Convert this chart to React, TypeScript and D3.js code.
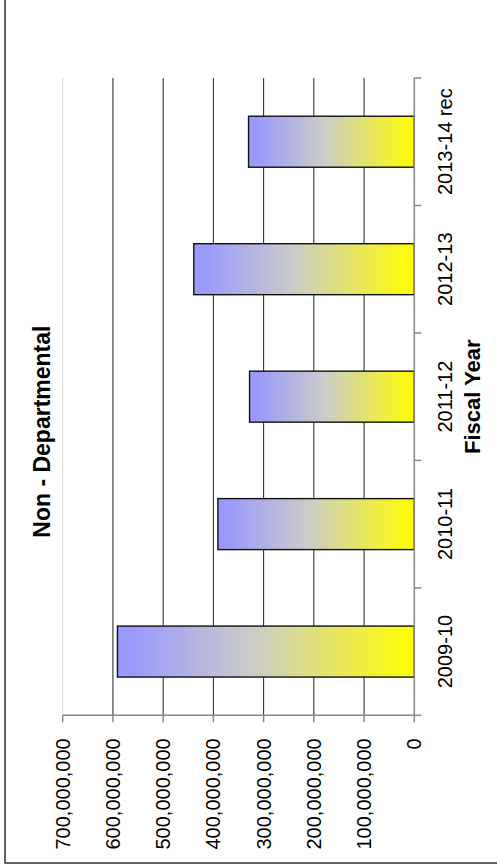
import React from "react";
import * as d3 from "d3";

// Non-departmental spending by fiscal year (chart is drawn turned on its side)
const categories: string[] = ["2009-10", "2010-11", "2011-12", "2012-13", "2013-14 rec"];
const spending: number[] = [591000000, 391000000, 328000000, 439000000, 330000000];
const valueTicks: number[] = [0, 100000000, 200000000, 300000000, 400000000, 500000000, 600000000, 700000000];
const chartTitle = "Non - Departmental";
const axisTitle = "Fiscal Year";

const W = 497;
const H = 866;
const plot = { left: 62.7, right: 414.3, top: 78, bottom: 715.3 };
const FONT = "'Liberation Sans', Arial, sans-serif";

export default function App() {
  // value runs right-to-left, categories run bottom-to-top
  const x = d3.scaleLinear().domain([0, 700000000]).range([plot.right, plot.left]);
  const y = d3
    .scaleBand<string>()
    .domain(categories)
    .range([plot.bottom, plot.top])
    .paddingInner(0.6)
    .paddingOuter(0.3);
  const step = y.step();
  const fmt = d3.format(",");
  const boundaries = d3.range(categories.length + 1).map((i) => plot.bottom - i * step);
  const midY = (plot.top + plot.bottom) / 2;

  return (
    <svg
      width={W}
      height={H}
      style={{ position: "absolute", left: 0, top: 0, background: "#fff" }}
      fontFamily={FONT}
    >
      <defs>
        <linearGradient id="barFill" x1="0" y1="0" x2="1" y2="0">
          <stop offset="0" stopColor="#9999ff" />
          <stop offset="0.06" stopColor="#9b9bfb" />
          <stop offset="0.45" stopColor="#cbcbcb" />
          <stop offset="1" stopColor="#ffff00" />
        </linearGradient>
      </defs>

      {/* chart frame */}
      <rect x={5} y={-20} width={W + 20} height={863 + 20} fill="#fff" stroke="#333" strokeWidth={1.5} />

      {/* gridlines */}
      {valueTicks
        .filter((v) => v > 0)
        .map((v) => (
          <line
            key={v}
            x1={x(v)}
            x2={x(v)}
            y1={plot.top}
            y2={plot.bottom}
            stroke={v === 700000000 ? "#d8d8d8" : "#222"}
            strokeWidth={1}
          />
        ))}

      {/* bars */}
      {categories.map((c, i) => (
        <rect
          key={c}
          x={x(spending[i])}
          y={y(c)!}
          width={x(0) - x(spending[i])}
          height={y.bandwidth()}
          fill="url(#barFill)"
          stroke="#111"
          strokeWidth={1.4}
        />
      ))}

      {/* value axis */}
      <line x1={plot.left} x2={plot.right} y1={plot.bottom} y2={plot.bottom} stroke="#888" strokeWidth={1.5} />
      {valueTicks.map((v) => (
        <g key={v}>
          <line x1={x(v)} x2={x(v)} y1={plot.bottom} y2={plot.bottom + 7} stroke="#888" strokeWidth={1.5} />
          <text
            transform={`translate(${x(v) + 7},${plot.bottom + 23}) rotate(-90)`}
            textAnchor="end"
            fontSize={20}
            fill="#000"
          >
            {fmt(v)}
          </text>
        </g>
      ))}

      {/* category axis */}
      <line x1={plot.right} x2={plot.right} y1={plot.top} y2={plot.bottom} stroke="#888" strokeWidth={1.5} />
      {boundaries.map((b, i) => (
        <line key={i} x1={plot.right} x2={plot.right + 7} y1={b} y2={b} stroke="#888" strokeWidth={1.5} />
      ))}
      {categories.map((c) => (
        <text
          key={c}
          transform={`translate(452,${y(c)! + y.bandwidth() / 2}) rotate(-90)`}
          textAnchor="middle"
          fontSize={20}
          fill="#000"
        >
          {c}
        </text>
      ))}

      {/* axis title */}
      <text
        transform={`translate(480,${midY}) rotate(-90)`}
        textAnchor="middle"
        fontSize={22}
        fontWeight="bold"
        fill="#000"
      >
        {axisTitle}
      </text>

      {/* chart title */}
      <text
        transform={`translate(49.5,${midY + 35}) rotate(-90)`}
        textAnchor="middle"
        fontSize={23}
        fontWeight="bold"
        fill="#000"
      >
        {chartTitle}
      </text>
    </svg>
  );
}
